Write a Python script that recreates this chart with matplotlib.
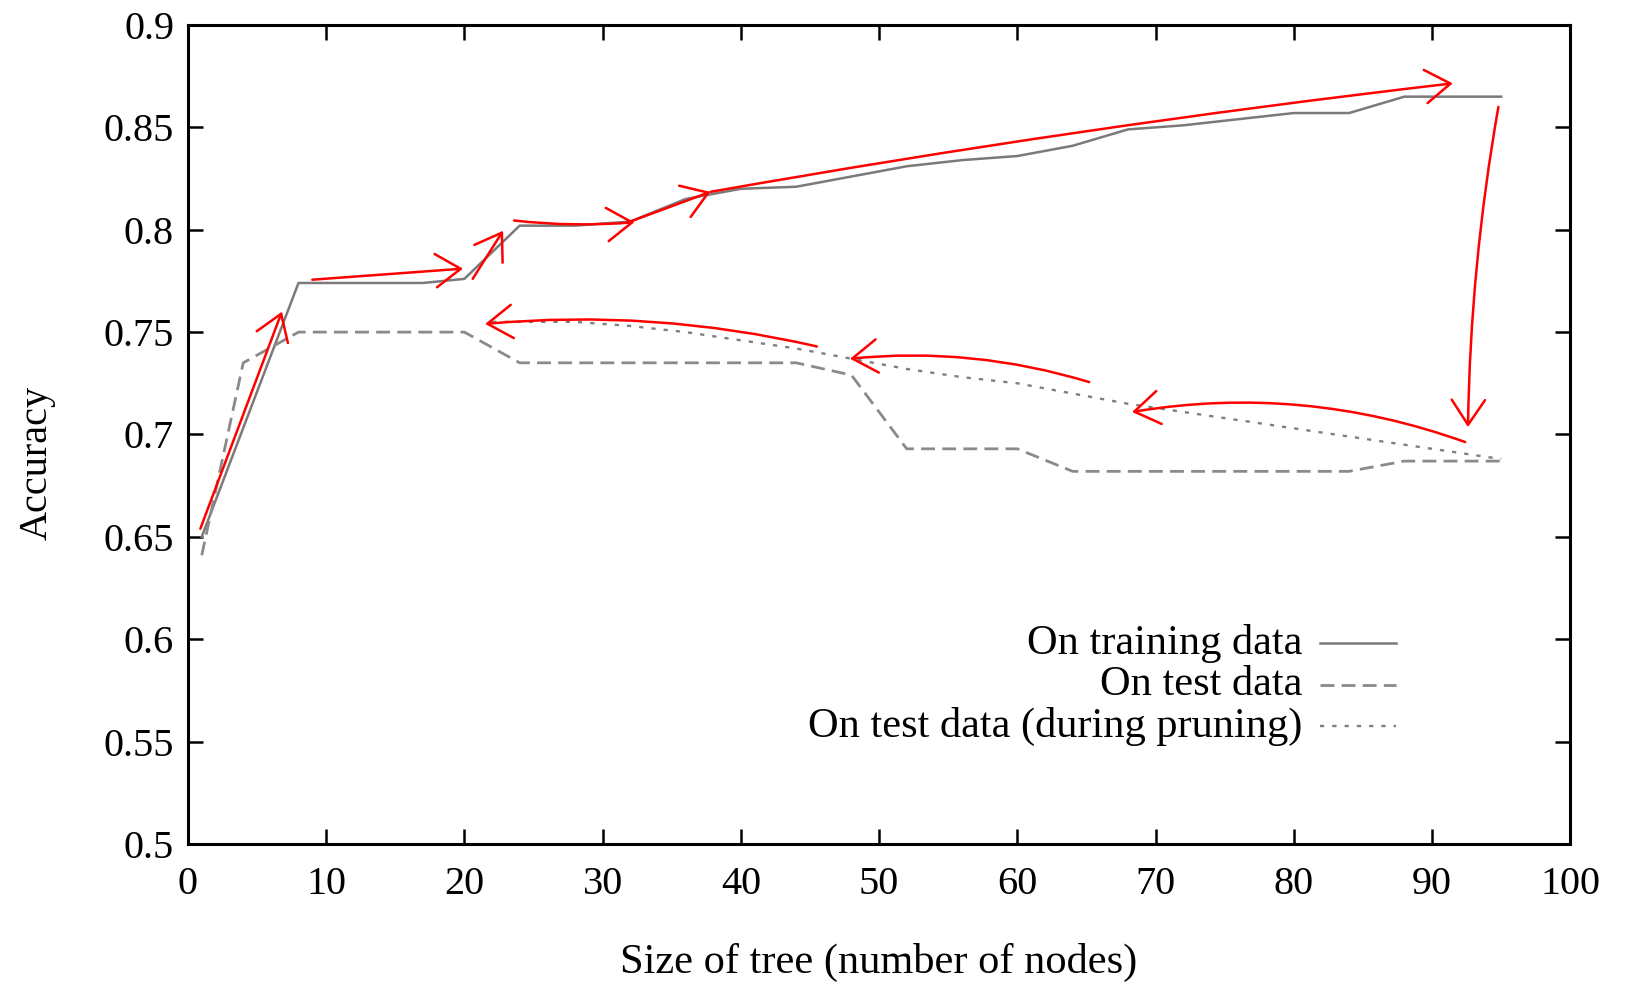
import matplotlib
matplotlib.use("Agg")
import matplotlib.pyplot as plt

plt.rcParams['font.family'] = ['Liberation Serif', 'DejaVu Serif']

# ---- data ----
train_x = [1, 8, 17, 20, 24, 28, 32, 36, 40, 44, 48, 52, 56, 60, 64, 68, 72, 76, 80, 84, 88, 95]
train_y = [0.650, 0.774, 0.774, 0.776, 0.802, 0.802, 0.804, 0.815, 0.820, 0.821, 0.826, 0.831,
           0.834, 0.836, 0.841, 0.849, 0.851, 0.854, 0.857, 0.857, 0.865, 0.865]

test_x = [1, 4, 8, 20, 24, 44, 48, 52, 60, 64, 84, 88, 95]
test_y = [0.641, 0.735, 0.750, 0.750, 0.735, 0.735, 0.729, 0.693, 0.693, 0.682, 0.682, 0.687, 0.687]

prune_x = [22, 28, 32, 36, 40, 44, 48, 52, 56, 60, 64, 68, 72, 76, 80, 84, 88, 92, 95]
prune_y = [0.755, 0.755, 0.753, 0.750, 0.746, 0.742, 0.737, 0.732, 0.728, 0.725, 0.720, 0.715,
           0.711, 0.707, 0.703, 0.699, 0.695, 0.691, 0.688]

series_labels = ["On training data", "On test data", "On test data (during pruning)"]
x_ticks = [0, 10, 20, 30, 40, 50, 60, 70, 80, 90, 100]
y_ticks = [0.5, 0.55, 0.6, 0.65, 0.7, 0.75, 0.8, 0.85, 0.9]
y_tick_labels = ["0.5", "0.55", "0.6", "0.65", "0.7", "0.75", "0.8", "0.85", "0.9"]

# hand-drawn red annotation arrows (start, end, curvature)
arrow_starts = [(0.9, 0.654), (9.0, 0.7756), (20.6, 0.776), (23.6, 0.8045), (31.8, 0.8035),
                (37.8, 0.8185), (94.8, 0.860), (92.4, 0.6963), (65.2, 0.7256), (45.5, 0.743)]
arrow_ends = [(6.8, 0.760), (19.9, 0.781), (22.8, 0.7995), (32.3, 0.8037), (37.8, 0.8185),
              (91.5, 0.8715), (92.6, 0.7036), (68.3, 0.711), (47.9, 0.737), (21.5, 0.754)]
arrow_rads = [0.0, 0.0, 0.0, 0.05, 0.0, -0.015, 0.04, 0.13, 0.1, 0.08]

# ---- figure ----
fig = plt.figure(figsize=(16.34, 9.84), dpi=100)
ax = fig.add_axes([0.115, 0.1423, 0.846, 0.8323])

styles = [dict(color='#7a7a7a', lw=1.8, dashes=()),
          dict(color='#8a8a8a', lw=2.0, dashes=(5.0, 2.6)),
          dict(color='#7f7f7f', lw=1.7, dashes=(1.8, 3.4))]

for xs, ys, st in zip([train_x, test_x, prune_x], [train_y, test_y, prune_y], styles):
    ln, = ax.plot(xs, ys, color=st['color'], lw=st['lw'])
    if st['dashes']:
        ln.set_dashes(st['dashes'])

for (sx, sy), (ex, ey), r in zip(arrow_starts, arrow_ends, arrow_rads):
    ax.annotate('', xy=(ex, ey), xytext=(sx, sy),
                arrowprops=dict(arrowstyle='->,head_length=0.9,head_width=0.6',
                                color='red', lw=1.8, shrinkA=0, shrinkB=0,
                                mutation_scale=20,
                                connectionstyle=f'arc3,rad={r}'))

ax.set_xlim(0, 100)
ax.set_ylim(0.5, 0.9)
ax.set_xticks(x_ticks)
ax.set_xticklabels([str(v) for v in x_ticks])
ax.set_yticks(y_ticks)
ax.set_yticklabels(y_tick_labels)
ax.tick_params(direction='in', top=True, right=True, length=11, width=1.8,
               labelsize=29)
ax.tick_params(axis='x', pad=16)
ax.tick_params(axis='y', pad=10)
for s in ax.spines.values():
    s.set_linewidth(2.2)

ax.set_xlabel("Size of tree (number of nodes)", fontsize=30.5)
ax.set_ylabel("Accuracy", fontsize=29)
ax.xaxis.set_label_coords(0.5, -0.121)
ax.yaxis.set_label_coords(-0.096, 0.465)

# gnuplot-style legend: right-aligned text, sample to the right
rows_y = [0.245, 0.194, 0.144]
for st, lab, yy in zip(styles, series_labels, rows_y):
    ax.text(0.806, yy, lab, transform=ax.transAxes, ha='right', va='center', fontsize=30.5)
    ln, = ax.plot([0.819, 0.874], [yy, yy], transform=ax.transAxes, color=st['color'],
                  lw=st['lw'], clip_on=False)
    if st['dashes']:
        ln.set_dashes(st['dashes'])

fig.savefig("out.png", dpi=100, facecolor='white')
